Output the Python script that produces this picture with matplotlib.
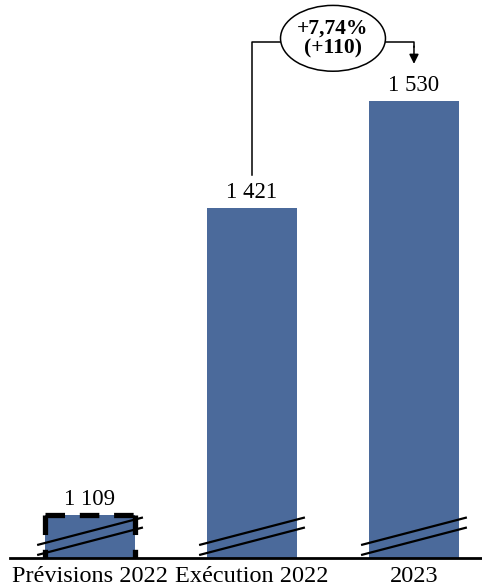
import numpy as np
import matplotlib.pyplot as plt
from matplotlib.patches import Ellipse

# valeurs affichées
categories = ['Prévisions 2022', 'Exécution 2022', '2023']
valeurs = [1109, 1421, 1530]
etiquettes = ['1 109', '1 421', '1 530']
variation = '+7,74%\n(+110)'

plt.rcParams['font.family'] = ['Liberation Serif', 'DejaVu Serif']

bleu = '#4B6A9B'
y0 = 1065          # bas de l'axe (axe coupé)

fig = plt.figure(figsize=(4.82, 5.88), dpi=100)
ax = fig.add_axes([0, 30 / 588, 1, 558 / 588])

x = np.arange(len(valeurs))
larg = 0.555
ax.bar(x, np.array(valeurs) - y0, bottom=y0, width=larg, color=bleu, zorder=2)

# libellés de valeur
for xi, v, lab in zip(x, valeurs, etiquettes):
    ax.text(xi, v + 5, lab, ha='center', va='bottom', fontsize=16.5)

# marques de coupure d'axe
for xi in x:
    ax.plot([xi - 0.32, xi + 0.32], [y0 + 13.5, y0 + 41], color='black', lw=1.6,
            zorder=4, clip_on=False)
    ax.plot([xi - 0.32, xi + 0.32], [y0 + 3.3, y0 + 30.8], color='black', lw=1.6,
            zorder=4, clip_on=False)

# cadre pointillé autour des prévisions
g, d, h = -larg / 2, larg / 2, valeurs[0]
style = dict(color='black', lw=3.8, linestyle=(0, (3.7, 2.8)), zorder=5,
             solid_capstyle='butt', dash_capstyle='butt', clip_on=False)
ax.plot([g, g], [h, y0], **style)
ax.plot([g, d], [h, h], **style)
ax.plot([d, d], [h, y0], **style)

# flèche de variation entre exécution 2022 et 2023
yl = 1590
ax.plot([1, 1, 1.18], [1455, yl, yl], color='black', lw=1.1, zorder=3)
ax.plot([1.82, 2, 2], [yl, yl, 1585], color='black', lw=1.1, zorder=3)
ax.annotate('', xy=(2, 1568), xytext=(2, 1586),
            arrowprops=dict(arrowstyle='-|>', color='black', lw=1.1,
                            mutation_scale=14, shrinkA=0, shrinkB=0))
ax.add_patch(Ellipse((1.5, 1594), 0.648, 67, facecolor='white', edgecolor='black',
                     lw=1.1, zorder=4))
ax.text(1.5, 1594, variation, ha='center', va='center', fontsize=15.5,
        fontweight='bold', linespacing=1.0, zorder=5)

ax.set_xlim(-0.556, 2.42)
ax.set_ylim(y0, 1633)
ax.set_xticks(x)
ax.set_xticklabels(categories, fontsize=17.5)
ax.tick_params(axis='x', length=0, pad=6)
ax.set_yticks([])
for s in ['top', 'left', 'right']:
    ax.spines[s].set_visible(False)
ax.spines['bottom'].set_linewidth(2)
ax.spines['bottom'].set_bounds(-0.494, 2.42)

fig.savefig('out.png', dpi=100)
